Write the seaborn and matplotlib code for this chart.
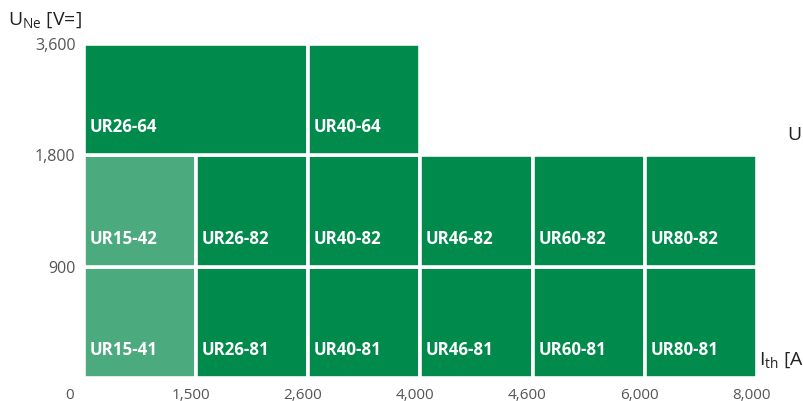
import matplotlib
matplotlib.use("Agg")
import matplotlib.pyplot as plt
import seaborn as sns

# current boundaries (A) and voltage boundaries (V)
current_ticks = ["0", "1,500", "2,600", "4,000", "4,600", "6,000", "8,000"]
voltage_ticks = ["900", "1,800", "3,600"]

# cells: type name, first column, number of columns, row
cell_names = ["UR15-41", "UR26-81", "UR40-81", "UR46-81", "UR60-81", "UR80-81",
              "UR15-42", "UR26-82", "UR40-82", "UR46-82", "UR60-82", "UR80-82",
              "UR26-64", "UR40-64"]
cell_col = [0, 1, 2, 3, 4, 5, 0, 1, 2, 3, 4, 5, 0, 2]
cell_span = [1, 1, 1, 1, 1, 1, 1, 1, 1, 1, 1, 1, 2, 1]
cell_row = [0, 0, 0, 0, 0, 0, 1, 1, 1, 1, 1, 1, 2, 2]
light_cells = ["UR15-41", "UR15-42"]

DARK = "#008A4B"
LIGHT = "#4BAA7E"
TICK = "#555555"

sns.set_theme(style="white")
plt.rcParams["font.family"] = ["Open Sans", "DejaVu Sans"]
plt.rcParams["mathtext.fontset"] = "custom"
plt.rcParams["mathtext.rm"] = "Open Sans"
plt.rcParams["mathtext.it"] = "Open Sans"

fig = plt.figure(figsize=(8.04, 4.01), dpi=100)
ax = fig.add_axes([84 / 804, 1 - 378 / 401, (757 - 84) / 804, (378 - 44) / 401])

colors = [LIGHT if n in light_cells else DARK for n in cell_names]
ax.bar(cell_col, [1] * len(cell_names), width=cell_span, bottom=cell_row,
       align="edge", color=colors, edgecolor="white", linewidth=2.6)

for name, c, r in zip(cell_names, cell_col, cell_row):
    ax.text(c + 0.05, r + 0.25, name, color="white", fontsize=12.2,
            fontweight="bold", va="center", ha="left")

# x labels sit just left of each column boundary
ax.set_xticks([i - 0.05 for i in range(1, len(current_ticks))])
ax.set_xticklabels(current_ticks[1:])
ax.text(-0.125, -0.051, current_ticks[0], transform=ax.get_xaxis_transform(),
        ha="center", va="center", fontsize=11, color=TICK, clip_on=False)
ax.set_yticks(range(1, len(voltage_ticks) + 1))
ax.set_yticklabels(voltage_ticks)
ax.set_xlim(0, 6)
ax.set_ylim(0, 3)
ax.tick_params(axis="x", length=0, pad=7, labelsize=11, labelcolor=TICK)
ax.tick_params(axis="y", length=0, pad=6, labelsize=11.5, labelcolor=TICK)
for s in ax.spines.values():
    s.set_visible(False)

fig.text(8 / 804, 1 - 20 / 401, r"U$_{\mathrm{Ne}}$ [V=]", fontsize=14,
         color="#222222", va="center", ha="left")
fig.text(759 / 804, 1 - 360 / 401, r"I$_{\mathrm{th}}$ [A]", fontsize=14,
         color="#222222", va="center", ha="left")
fig.text(787 / 804, 1 - 135 / 401, r"U$_{\mathrm{Ne}}$ [V~]", fontsize=14,
         color="#222222", va="center", ha="left")

fig.savefig("out.png", dpi=100)
